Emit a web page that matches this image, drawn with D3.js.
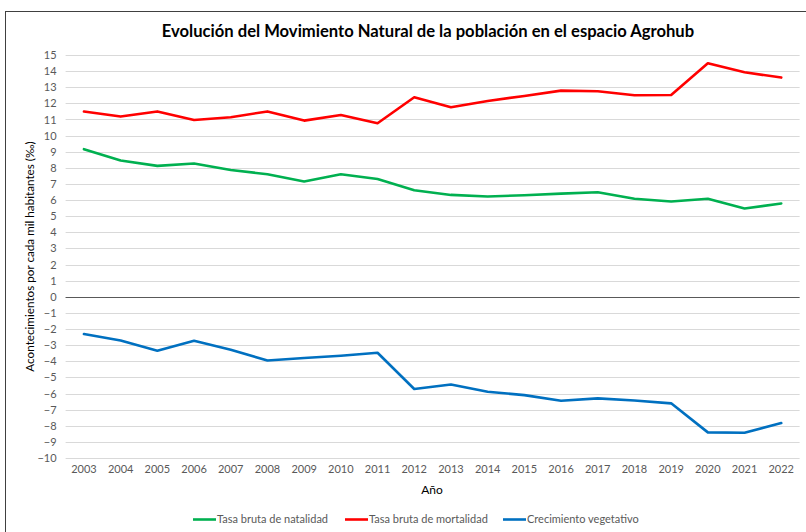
<!DOCTYPE html>
<html><head><meta charset="utf-8">
<script src="https://cdn.jsdelivr.net/npm/d3@7"></script>
<style>body{margin:0;background:#fff}svg{display:block;font-family:Lato,"Open Sans",sans-serif}</style>
</head><body><svg id="c" width="806" height="532"></svg>
<script>
const years = ["2003","2004","2005","2006","2007","2008","2009","2010","2011","2012","2013","2014","2015","2016","2017","2018","2019","2020","2021","2022"];
const natalidad = [9.16,8.45,8.12,8.27,7.87,7.6,7.15,7.6,7.31,6.61,6.32,6.22,6.3,6.4,6.49,6.08,5.91,6.08,5.48,5.79];
const mortalidad = [11.49,11.18,11.5,10.97,11.14,11.5,10.93,11.28,10.77,12.38,11.76,12.15,12.46,12.79,12.75,12.5,12.52,14.49,13.93,13.6];
const crecimiento = [-2.31,-2.71,-3.35,-2.73,-3.29,-3.95,-3.8,-3.66,-3.47,-5.72,-5.44,-5.89,-6.1,-6.45,-6.3,-6.43,-6.61,-8.41,-8.43,-7.83];
const yTicks = d3.range(-10,16,1);
const seriesNames = ["Tasa bruta de natalidad","Tasa bruta de mortalidad","Crecimiento vegetativo"];
const seriesColors = ["#00B050","#FF0000","#0070C0"];
const title = "Evolución del Movimiento Natural de la población en el espacio Agrohub";
const xTitle = "Año";
const yTitle = "Acontecimientos por cada mil habitantes (‰)";

const svg = d3.select("#c");
svg.append("rect").attr("x",5.5).attr("y",11.5).attr("width",820).attr("height",540)
  .attr("fill","#fff").attr("stroke","#404040").attr("stroke-width",1);

const pL=65.6, pR=799.6, pT=55, pB=458;
const x = d3.scaleBand().domain(years).range([pL,pR]);
const y = d3.scaleLinear().domain([-10,15]).range([pB,pT]);
const cx = d => x(d)+x.bandwidth()/2;

svg.append("g").selectAll("line").data(yTicks).join("line")
  .attr("x1",pL).attr("x2",pR).attr("y1",d=>Math.round(y(d))+0.5).attr("y2",d=>Math.round(y(d))+0.5)
  .attr("stroke","#D9D9D9").attr("stroke-width",1);
svg.append("line").attr("x1",pL).attr("x2",pR).attr("y1",Math.round(y(0))+0.5).attr("y2",Math.round(y(0))+0.5)
  .attr("stroke","#595959").attr("stroke-width",1);

const yAxis = d3.axisLeft(y).tickValues(yTicks).tickSize(0).tickPadding(9).tickFormat(d3.format("d"));
const gy = svg.append("g").attr("transform",`translate(${pL},0)`).call(yAxis);
gy.select(".domain").remove();
gy.selectAll("text").attr("font-size",11).attr("fill","#595959").style("font-family","Lato,sans-serif");

const xAxis = d3.axisBottom(x).tickSize(0).tickPadding(7);
const gx = svg.append("g").attr("transform",`translate(0,${pB})`).call(xAxis);
gx.select(".domain").remove();
gx.selectAll("text").attr("font-size",11).attr("fill","#595959").style("font-family","Lato,sans-serif");

const line = d3.line().x((d,i)=>cx(years[i])).y(d=>y(d));
[natalidad,mortalidad,crecimiento].forEach((s,i)=>{
  svg.append("path").datum(s).attr("d",line).attr("fill","none")
    .attr("stroke",seriesColors[i]).attr("stroke-width",2.6).attr("stroke-linejoin","round").attr("stroke-linecap","round");
});

svg.append("text").attr("x",428).attr("y",37).attr("text-anchor","middle")
  .attr("font-size",16.6).attr("font-weight","bold").attr("fill","#000").text(title);
svg.append("text").attr("x",432).attr("y",494).attr("text-anchor","middle")
  .attr("font-size",12).attr("fill","#000").text(xTitle);
svg.append("text").attr("transform",`translate(34,${(pT+pB)/2}) rotate(-90)`).attr("text-anchor","middle")
  .attr("font-size",11.7).attr("fill","#000").text(yTitle);

const legX = [193,345,503];
const leg = svg.append("g");
seriesNames.forEach((n,i)=>{
  leg.append("line").attr("x1",legX[i]).attr("x2",legX[i]+23).attr("y1",519.5).attr("y2",519.5)
    .attr("stroke",seriesColors[i]).attr("stroke-width",2.6);
  leg.append("text").attr("x",legX[i]+24).attr("y",523).attr("font-size",11).attr("fill","#595959").text(n);
});
</script></body></html>
